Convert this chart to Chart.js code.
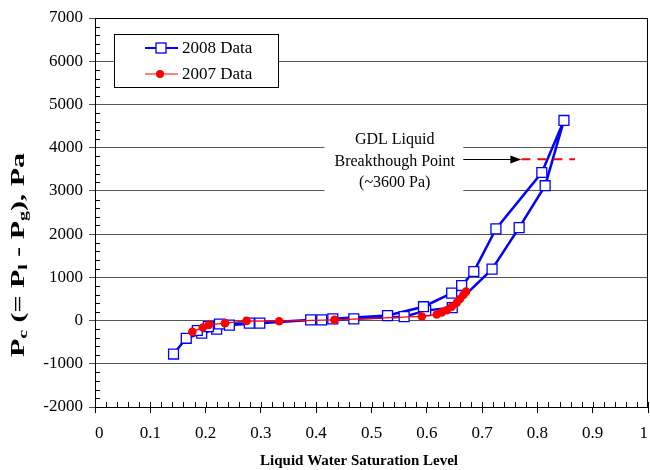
<!DOCTYPE html>
<html>
<head>
<meta charset="utf-8">
<script src="https://cdn.jsdelivr.net/npm/chart.js@4"></script>
<style>
  html, body { margin: 0; padding: 0; background: #fff; }
</style>
</head>
<body>
<canvas id="pc_chart" width="650" height="470"></canvas>
<script>
'use strict';

// 2008 data : up one branch, back down the other
const sat2008 = [0.142, 0.165, 0.193, 0.220, 0.243, 0.298, 0.390, 0.410, 0.468, 0.559, 0.598, 0.646, 0.718, 0.767, 0.814, 0.848,
                 0.808, 0.725, 0.685, 0.663, 0.645, 0.594, 0.529, 0.430, 0.279, 0.225, 0.205, 0.185];
const pc2008  = [-775, -410, -290, -200, -105, -60, 15, 15, 40, 90, 230, 300, 1190, 2150, 3120, 4630,
                 3425, 2120, 1135, 810, 635, 320, 115, 40, -60, -80, -140, -230];

// 2007 data
const sat2007 = [0.176, 0.195, 0.206, 0.235, 0.274, 0.333, 0.433, 0.591, 0.618, 0.627, 0.636, 0.645, 0.654, 0.660, 0.666, 0.671];
const pc2007  = [-260, -160, -100, -60, -7, -15, 15, 95, 140, 190, 240, 320, 410, 500, 590, 670];

// breakthrough marker
const breakSat = [0.771, 0.868];
const breakPc  = [3730, 3730];
const arrowSat = [0.666, 0.771];
const noteLines = ['GDL Liquid', 'Breakthough Point', '(~3600 Pa)'];

const seriesNames = ['2008 Data', '2007 Data'];
const xTitle = 'Liquid Water Saturation Level';

const serif = '"Liberation Serif", "Times New Roman", serif';
const blue = '#0000ff';
const red = '#ff0000';
const plotRight = 648;

const toPts = (xs, ys) => xs.map((v, i) => ({ x: v, y: ys[i] }));

// bits chart.js doesn't draw by itself : minor ticks, frame, note, arrow, legend, titles
const extras = {
  id: 'extras',
  afterLayout(chart) {
    // chart.js keeps room for the last x label, the plot runs right to the edge here
    const a = chart.chartArea, x = chart.scales.x;
    a.right = plotRight;
    a.width = plotRight - a.left;
    x.right = plotRight;
    x.width = plotRight - x.left;
    x.configure();
  },
  beforeDatasetsDraw(chart) {
    const { ctx, scales: { x, y } } = chart;
    // blank out the grid behind the note
    const l = x.getPixelForValue(0.415), r = x.getPixelForValue(0.666);
    const t = y.getPixelForValue(4450), b = y.getPixelForValue(2850);
    ctx.save();
    ctx.fillStyle = '#fff';
    ctx.fillRect(l, t, r - l, b - t);
    ctx.restore();
  },
  afterDraw(chart) {
    const { ctx, chartArea: a, scales: { x, y } } = chart;
    ctx.save();

    // frame
    ctx.strokeStyle = '#000';
    ctx.lineWidth = 1;
    ctx.strokeRect(Math.round(a.left) + 0.5, Math.round(a.top) + 0.5,
                   Math.round(a.right - a.left) - 1, Math.round(a.bottom - a.top));

    // minor ticks (inside)
    ctx.beginPath();
    for (let v = -2000; v <= 7000; v += 200) {
      if (v % 1000 === 0) continue;
      const py = Math.round(y.getPixelForValue(v)) + 0.5;
      ctx.moveTo(a.left, py);
      ctx.lineTo(a.left + 5, py);
    }
    for (let i = 0; i <= 50; i++) {
      const px = Math.round(x.getPixelForValue(i / 50)) + 0.5;
      ctx.moveTo(px, a.bottom);
      ctx.lineTo(px, a.bottom - 5);
    }
    ctx.stroke();

    // note text
    ctx.fillStyle = '#000';
    ctx.font = '16px ' + serif;
    ctx.textAlign = 'center';
    ctx.textBaseline = 'middle';
    const nx = x.getPixelForValue(0.542);
    const noteY = [4180, 3680, 3190];
    noteLines.forEach((s, i) => ctx.fillText(s, nx, y.getPixelForValue(noteY[i])));

    // arrow
    const ax0 = x.getPixelForValue(arrowSat[0]);
    const ax1 = x.getPixelForValue(arrowSat[1]);
    const ay = Math.round(y.getPixelForValue(breakPc[0])) + 0.5;
    ctx.beginPath();
    ctx.moveTo(ax0, ay);
    ctx.lineTo(ax1 - 8, ay);
    ctx.stroke();
    ctx.beginPath();
    ctx.moveTo(ax1, ay);
    ctx.lineTo(ax1 - 11, ay - 4);
    ctx.lineTo(ax1 - 11, ay + 4);
    ctx.closePath();
    ctx.fill();

    // legend
    const lx = 114, ly = 34, lw = 164, lh = 53;
    ctx.fillStyle = '#fff';
    ctx.fillRect(lx, ly, lw, lh);
    ctx.strokeStyle = '#000';
    ctx.strokeRect(lx + 0.5, ly + 0.5, lw, lh);
    const ds = chart.data.datasets;
    [0, 1].forEach(i => {
      const d = ds[i];
      const ry = i === 0 ? 48 : 74;
      ctx.strokeStyle = d.borderColor;
      ctx.lineWidth = i === 0 ? 2 : 1.2;
      ctx.beginPath();
      ctx.moveTo(145, ry);
      ctx.lineTo(178, ry);
      ctx.stroke();
      if (i === 0) {
        ctx.fillStyle = '#fff';
        ctx.lineWidth = 1.3;
        ctx.fillRect(156, ry - 5, 10, 10);
        ctx.strokeRect(156, ry - 5, 10, 10);
      } else {
        ctx.fillStyle = red;
        ctx.beginPath();
        ctx.arc(160, ry, 4, 0, Math.PI * 2);
        ctx.fill();
      }
      ctx.fillStyle = '#000';
      ctx.font = '17px ' + serif;
      ctx.textAlign = 'left';
      ctx.fillText(seriesNames[i], 182, ry + 1);
    });

    // x title
    ctx.font = 'bold 15px ' + serif;
    ctx.textAlign = 'center';
    ctx.fillText(xTitle, 359, 461);

    // y title with subscripts, stretched along its length like the reference
    const parts = [['P', 0], ['c', 1], [' (= P', 0], ['l', 1], [' - P', 0], ['g', 1], ['), Pa', 0]];
    const big = 'bold 18px ' + serif, small = 'bold 12px ' + serif;
    let total = 0;
    parts.forEach(p => { ctx.font = p[1] ? small : big; total += ctx.measureText(p[0]).width; });
    const k = 204 / total;
    ctx.translate(19, 255);
    ctx.rotate(-Math.PI / 2);
    ctx.scale(k, 1);
    ctx.textAlign = 'left';
    let cx = -total / 2;
    parts.forEach(p => {
      ctx.font = p[1] ? small : big;
      ctx.fillText(p[0], cx, p[1] ? 5 : 0);
      cx += ctx.measureText(p[0]).width;
    });

    ctx.restore();
  }
};

const ctxPc = document.getElementById('pc_chart').getContext('2d');

new Chart(ctxPc, {
  type: 'scatter',
  data: {
    datasets: [{
      label: seriesNames[0],
      data: toPts(sat2008, pc2008),
      showLine: true,
      borderColor: blue,
      borderWidth: 2.5,
      pointStyle: 'rect',
      pointRadius: 7,
      pointBorderWidth: 1.3,
      pointBackgroundColor: '#fff',
      pointBorderColor: blue,
      order: 2
    }, {
      label: seriesNames[1],
      data: toPts(sat2007, pc2007),
      showLine: true,
      borderColor: red,
      borderWidth: 1.3,
      pointStyle: 'circle',
      pointRadius: 4.3,
      pointBorderWidth: 0,
      pointBackgroundColor: red,
      order: 1
    }, {
      label: 'breakthrough',
      data: toPts(breakSat, breakPc),
      showLine: true,
      borderColor: red,
      borderWidth: 2,
      borderDash: [9, 7],
      pointRadius: 0,
      order: 0
    }]
  },
  options: {
    responsive: false,
    animation: false,
    layout: { padding: { top: 18, right: 2, left: 0, bottom: 0 } },
    plugins: {
      legend: { display: false },
      tooltip: { enabled: false }
    },
    scales: {
      x: {
        type: 'linear',
        min: 0,
        max: 1,
        afterFit: s => { s.height = 63; s.paddingLeft = 0; s.paddingRight = 0; },
        grid: { drawOnChartArea: false, color: '#000', tickLength: 6 },
        border: { color: '#000' },
        ticks: {
          stepSize: 0.1,
          maxRotation: 0,
          align: 'inner',
          color: '#000',
          padding: 10,
          font: { family: serif, size: 17 },
          callback: v => String(Math.round(v * 10) / 10)
        }
      },
      y: {
        min: -2000,
        max: 7000,
        afterFit: s => { s.width = 95; s.paddingTop = 0; s.paddingBottom = 0; },
        grid: { color: '#555', tickLength: 6 },
        border: { color: '#000' },
        ticks: {
          stepSize: 1000,
          color: '#000',
          padding: 6,
          font: { family: serif, size: 17 },
          callback: v => String(v)
        }
      }
    }
  },
  plugins: [extras]
});
</script>
</body>
</html>
